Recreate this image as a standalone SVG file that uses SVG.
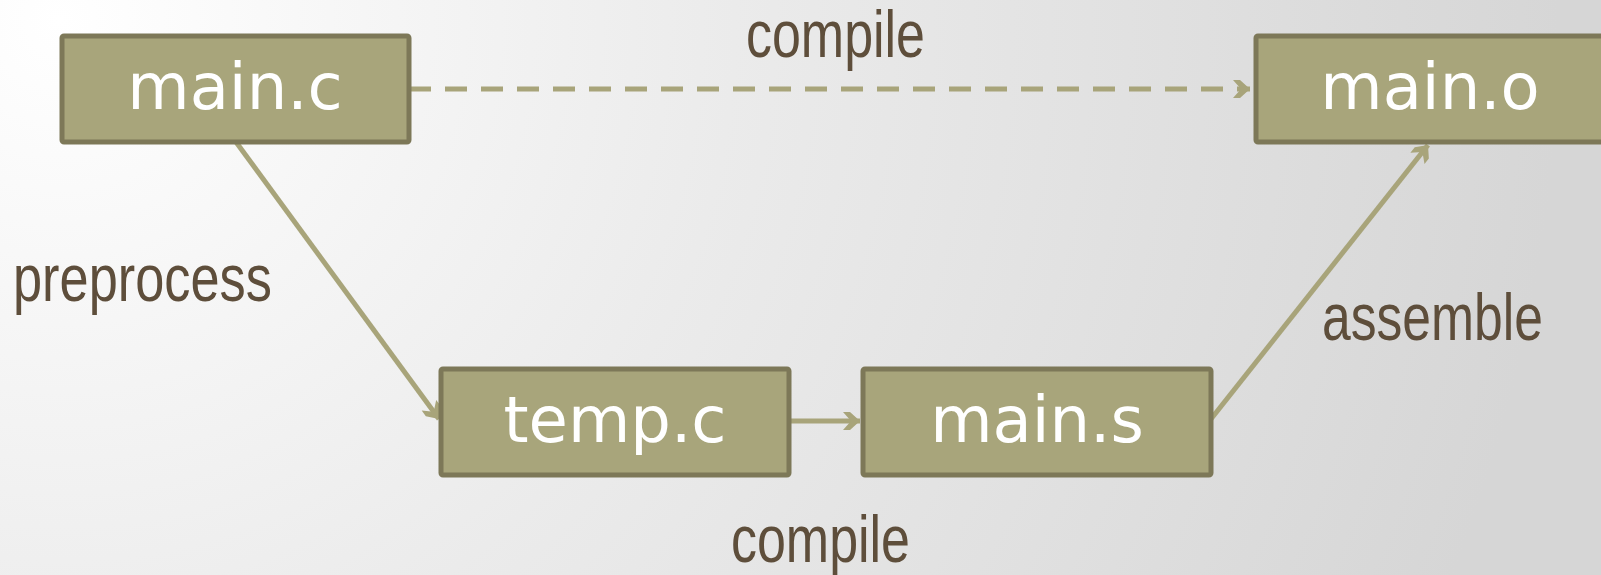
<svg xmlns="http://www.w3.org/2000/svg" width="1601" height="575" viewBox="0 0 1601 575">
<defs>
<radialGradient id="bg" gradientUnits="userSpaceOnUse" cx="60" cy="20" r="1500">
<stop offset="0" stop-color="#ffffff"/>
<stop offset="0.45" stop-color="#ebebeb"/>
<stop offset="1" stop-color="#d6d6d6"/>
</radialGradient>
<marker id="arr" viewBox="0 0 20 20" refX="18" refY="10" markerWidth="20" markerHeight="20" markerUnits="userSpaceOnUse" orient="auto">
<path d="M1,1 L8,1 L18,10 L8,19 L1,19 L9,10 Z" fill="#a8a47a"/>
</marker>
<style>
.box{fill:#a8a57b;stroke:#7d7858;stroke-width:5}
.nt{font-family:"DejaVu Sans",sans-serif;font-size:64px;fill:#ffffff;text-anchor:middle}
.lbl{font-family:"Liberation Sans",sans-serif;font-size:66px;fill:#5e4e3b}
.c{fill:none;stroke:#a8a47a;stroke-width:5}
</style>
</defs>
<rect width="1601" height="575" fill="url(#bg)"/>
<g id="connectors">
<line class="c" x1="409" y1="89" x2="1250" y2="89" stroke-dasharray="22,14" marker-end="url(#arr)"/>
<line class="c" x1="236" y1="142" x2="439" y2="419" marker-end="url(#arr)"/>
<line class="c" x1="789" y1="421" x2="860" y2="421" marker-end="url(#arr)"/>
<line class="c" x1="1211" y1="419" x2="1428" y2="145" marker-end="url(#arr)"/>
</g>
<g id="main_c"><rect class="box" x="62" y="36" width="347" height="106" rx="2"/><text class="nt" x="235" y="109">main.c</text></g>
<g id="main_o"><rect class="box" x="1256" y="36" width="360" height="106" rx="2"/><text class="nt" x="1430" y="109">main.o</text></g>
<g id="temp_c"><rect class="box" x="441" y="369" width="348" height="106" rx="2"/><text class="nt" x="615" y="442">temp.c</text></g>
<g id="main_s"><rect class="box" x="863" y="369" width="348" height="106" rx="2"/><text class="nt" x="1037" y="442">main.s</text></g>
<g id="labels">
<text class="lbl" transform="translate(746,57) scale(0.79,1)" x="0" y="0" textLength="226.6" lengthAdjust="spacingAndGlyphs">compile</text>
<text class="lbl" transform="translate(731,562) scale(0.79,1)" x="0" y="0" textLength="226.6" lengthAdjust="spacingAndGlyphs">compile</text>
<text class="lbl" transform="translate(13,301) scale(0.79,1)" x="0" y="0" textLength="327.8" lengthAdjust="spacingAndGlyphs">preprocess</text>
<text class="lbl" transform="translate(1322,340) scale(0.79,1)" x="0" y="0" textLength="279.7" lengthAdjust="spacingAndGlyphs">assemble</text>
</g>
</svg>
